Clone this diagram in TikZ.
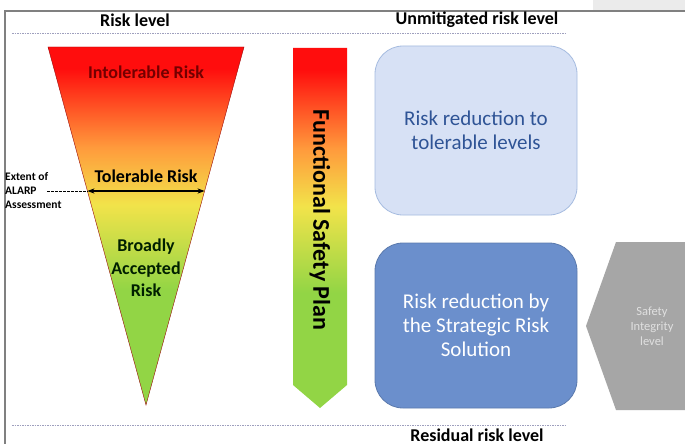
\documentclass[tikz,border=0pt]{standalone}
\usepackage{fontspec}
\setmainfont{Carlito}
\usetikzlibrary{arrows.meta}
\definecolor{cRed}{HTML}{FF0D0D}
\definecolor{cOrange}{HTML}{FF9A3C}
\definecolor{cYellow}{HTML}{F2E34A}
\definecolor{cGreen}{HTML}{92D545}
\definecolor{cPale}{HTML}{D7E1F5}
\definecolor{cBlue}{HTML}{6B8FCC}
\definecolor{cInk}{HTML}{2F5496}
\definecolor{cGrey}{HTML}{A6A6A6}
\definecolor{cRule}{HTML}{9FA0BE}
\pgfdeclareverticalshading{riskfade}{100bp}{color(0bp)=(cGreen); color(41bp)=(cGreen);
  color(53bp)=(cYellow); color(61bp)=(cOrange); color(72bp)=(cRed); color(100bp)=(cRed)}
\tikzset{
    head/.style  ={font=\bfseries\fontsize{18}{20}\selectfont, inner sep=1pt},
    zone/.style  ={font=\bfseries\fontsize{18}{22.5}\selectfont, align=center, inner sep=1pt},
    lvl/.style   ={draw=cRule, dash pattern=on 1.5pt off 1pt, line width=0.8pt},
    rbox/.style  ={rounded corners=28pt, line width=0.8pt, align=center,
                   font=\fontsize{21}{24}\selectfont,
                   minimum width=202pt, inner sep=0pt},
    frame/.style ={draw=gray, line width=1.2pt},
}

\begin{document}
\begin{tikzpicture}[x=1pt, y=-1pt]
\clip (0,0) rectangle (685,444);
\fill[white] (0,0) rectangle (685,444);

% ===================== Marco =====================
\fill[black!8] (593,0) rectangle (685,10);
\draw[frame] (685,11) -- (5,11) -- (5,444);

% ===================== Niveles =====================
\node[head] (risklvl) at (135,20) {Risk level};
\node[head] (unmit) at (477,20) {Unmitigated risk level};
\node[head, anchor=base] (resid) at (477,441) {Residual risk level};
\draw[lvl] (12,33) -- (565,33);
\draw[lvl] (12,425) -- (565,425);

% ===================== Triangulo de riesgo =====================
\shade[shading=riskfade, draw=cRed!60!black, line width=0.4pt]
    (48,47) -- (244,47) -- (146,405) -- cycle;
\node[zone, text=red!45!black] (intol) at (146,72) {Intolerable Risk};
\node[zone] (tol) at (146,176) {Tolerable Risk};
\node[zone, text=green!12!black] (broad) at (146,268) {Broadly\\Accepted\\Risk};

\coordinate (alarpL) at (87.5,191);
\coordinate (alarpR) at (204.5,191);
\coordinate (alarpS) at (47,191);
\draw[{Stealth[length=7pt]}-{Stealth[length=7pt]}, line width=1.6pt] (alarpL) -- (alarpR);
\node[font=\bfseries\fontsize{11.5}{14}\selectfont, align=left, anchor=west, inner sep=0pt]
    (extent) at (5,191) {Extent of\\ALARP\\Assessment};
\draw[dashed, line width=0.9pt, dash pattern=on 2.5pt off 1.5pt] (alarpS) -- (alarpL);

% ===================== Plan de seguridad funcional =====================
\shade[shading=riskfade] (293,48) -- (347,48) -- (347,385) -- (320,408) -- (293,385) -- cycle;
\node[rotate=-90, font=\bfseries\fontsize{24}{26}\selectfont, inner sep=0pt]
    (fsp) at (320,220) {Functional Safety Plan};

% ===================== Reduccion de riesgo =====================
\node[rbox, fill=cPale, draw=cBlue!60, text=cInk, minimum height=169pt]
    (tolbox) at (476,130.5) {Risk reduction to\\tolerable levels};
\node[rbox, fill=cBlue, draw=cBlue!85!black, text=white, minimum height=165pt]
    (srsbox) at (476,325.5) {Risk reduction by\\the Strategic Risk\\Solution};

% ===================== Nivel de integridad =====================
\fill[cGrey] (586,326) -- (616,242) -- (690,242) -- (690,410) -- (616,410) -- cycle;
\node[font=\fontsize{12.5}{15}\selectfont, text=black!12, align=center]
    (sil) at (652,326) {Safety\\Integrity\\level};

\end{tikzpicture}
\end{document}
